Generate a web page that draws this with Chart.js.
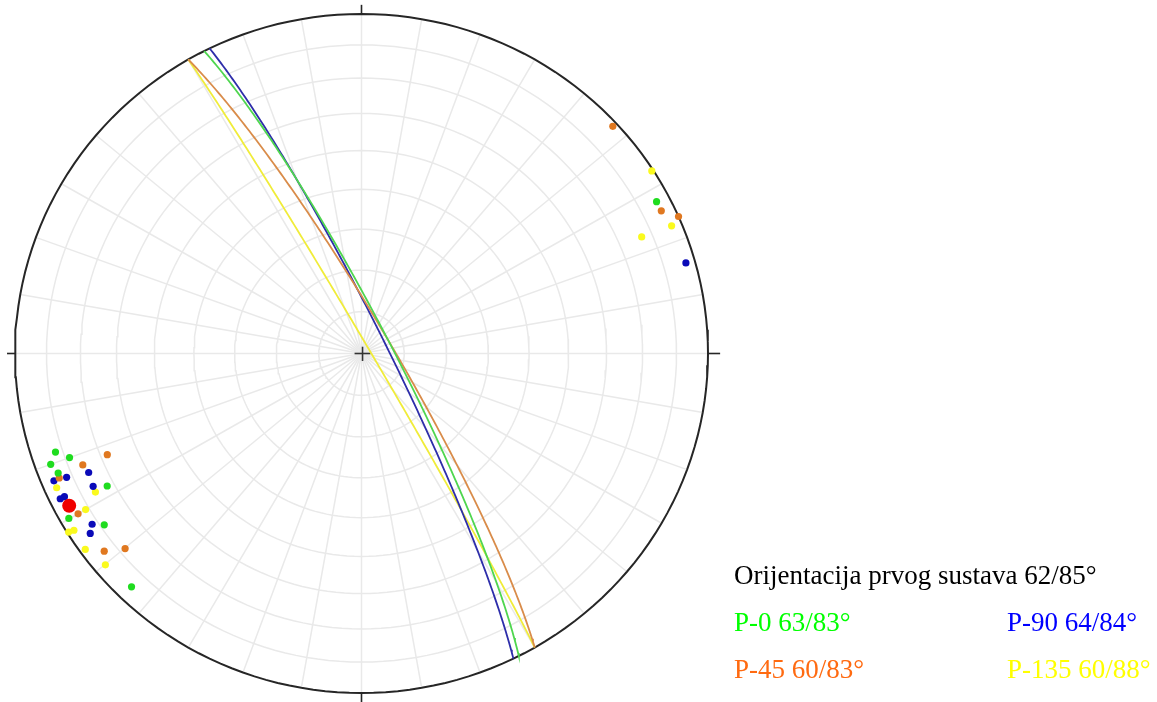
<!DOCTYPE html>
<html>
<head>
<meta charset="utf-8">
<script src="https://cdn.jsdelivr.net/npm/chart.js@4.4.1/dist/chart.umd.min.js"></script>
<style>
  html, body { margin: 0; padding: 0; background: #fff; }
  #wrap { position: relative; width: 1157px; height: 702px; overflow: hidden; }
  canvas { position: absolute; left: 0; top: 0; }
  .lbl { position: absolute; font-family: "Liberation Serif", "Times New Roman", serif; font-size: 27px; line-height: 27px; white-space: nowrap; }
</style>
</head>
<body>
<div id="wrap">
  <canvas id="c" width="1157" height="702"></canvas>
  <div class="lbl" id="title" style="left:734px; top:562px; color:#000;"></div>
  <div class="lbl" id="l0" style="left:734px; top:609px; color:#00ff00;"></div>
  <div class="lbl" id="l2" style="left:1007px; top:609px; color:#0000ff;"></div>
  <div class="lbl" id="l1" style="left:734px; top:656px; color:#ff6a10;"></div>
  <div class="lbl" id="l3" style="left:1007px; top:656px; color:#ffff00;"></div>
</div>
<script>
// ---- data ----
const mainName = 'Orijentacija prvog sustava';
const mainDipDirection = 62;
const mainDip = 85;

const planeNames = ['P-0', 'P-45', 'P-90', 'P-135'];
const planeDipDirections = [63, 60, 64, 60];
const planeDips = [83, 83, 84, 88];

// poles (trend / plunge, degrees)
const greenTrend  = [251.8, 250.0, 250.0, 248.1, 242.0, 240.1, 235.8, 224.0, 62.3];
const greenPlunge = [7.8, 11.3, 5.1, 6.3, 18.0, 2.9, 11.2, 5.0, 4.3];
const orangeTrend  = [247.9, 247.8, 247.2, 240.0, 231.9, 229.9, 47.3, 64.1, 66.2];
const orangePlunge = [21.9, 14.2, 6.0, 6.2, 6.3, 11.8, 1.5, 4.3, 0.0];
const blueTrend  = [246.0, 247.1, 246.8, 243.2, 243.8, 243.8, 237.1, 235.9, 74.1];
const bluePlunge = [14.9, 4.1, 8.2, 14.3, 5.0, 3.5, 8.2, 6.1, 3.0];
const yellowTrend  = [245.8, 242.0, 240.0, 238.1, 237.9, 234.1, 229.9, 57.3, 67.2, 67.0];
const yellowPlunge = [4.0, 14.1, 8.9, 0.5, 2.3, 1.8, 3.8, 0.5, 3.3, 13.2];

// net grid
const gridPlunges = [10, 20, 30, 40, 50, 60, 70, 80];
const gridAzimuths = [];
for (let a = 0; a < 360; a += 10) gridAzimuths.push(a);

// ---- styles ----
const planeLineColors = ['#4fd64f', '#d98c4a', '#2e2eaa', '#f0ec3a'];
const poleColors = ['#1fdc1f', '#e07820', '#0a0ab8', '#fafa1e'];

// ---- projection helpers (lower hemisphere, equal area) ----
const rad = d => d * Math.PI / 180;
function projLine(trend, plunge) {
  const r = Math.SQRT2 * Math.sin(rad((90 - plunge) / 2));
  return { x: r * Math.sin(rad(trend)), y: r * Math.cos(rad(trend)) };
}
function greatCircle(dd, dip) {
  const st = dd - 90;
  const s = [Math.sin(rad(st)), Math.cos(rad(st)), 0];
  const d = [Math.sin(rad(dd)) * Math.cos(rad(dip)), Math.cos(rad(dd)) * Math.cos(rad(dip)), Math.sin(rad(dip))];
  const pts = [];
  for (let t = 0; t <= 180; t += 1) {
    const c = Math.cos(rad(t)), sn = Math.sin(rad(t));
    const v = [c * s[0] + sn * d[0], c * s[1] + sn * d[1], Math.max(0, c * s[2] + sn * d[2])];
    const k = 1 / Math.sqrt(1 + v[2]);
    pts.push({ x: v[0] * k, y: v[1] * k });
  }
  return pts;
}
function circlePts(r) {
  const pts = [];
  for (let a = 0; a <= 360; a += 2) pts.push({ x: r * Math.sin(rad(a)), y: r * Math.cos(rad(a)) });
  return pts;
}

const datasets = [];
const lineDs = (data, color, width, order) => ({
  data, showLine: true, borderColor: color, borderWidth: width, pointRadius: 0,
  fill: false, tension: 0, order, clip: false
});

// grid circles
gridPlunges.forEach(p => {
  datasets.push(lineDs(circlePts(Math.SQRT2 * Math.sin(rad((90 - p) / 2))), '#e9e9e9', 1.5, 10));
});
// grid radials
gridAzimuths.forEach(a => {
  datasets.push(lineDs([{ x: 0, y: 0 }, projLine(a, 0)], '#e9e9e9', 1.5, 10));
});
// primitive circle
datasets.push(lineDs(circlePts(1), '#262626', 2, 5));
// cardinal ticks
datasets.push(lineDs([{ x: 0, y: 1 }, { x: 0, y: 1.027 }], '#262626', 1.6, 5));
datasets.push(lineDs([{ x: 0, y: -1 }, { x: 0, y: -1.03 }], '#262626', 1.6, 5));
datasets.push(lineDs([{ x: -1, y: 0 }, { x: -1.023, y: 0 }], '#262626', 1.6, 5));
datasets.push(lineDs([{ x: 1, y: 0 }, { x: 1.035, y: 0 }], '#262626', 1.6, 5));
// centre cross
datasets.push(lineDs([{ x: -0.02, y: 0 }, { x: 0.026, y: 0 }], '#333', 1.6, 5));
datasets.push(lineDs([{ x: 0.003, y: -0.022 }, { x: 0.003, y: 0.02 }], '#333', 1.6, 5));

// great circles
planeNames.forEach((n, i) => {
  datasets.push(lineDs(greatCircle(planeDipDirections[i], planeDips[i]), planeLineColors[i], 1.8, 3));
});

// poles
const poleSets = [
  [greenTrend, greenPlunge], [orangeTrend, orangePlunge], [blueTrend, bluePlunge], [yellowTrend, yellowPlunge]
];
poleSets.forEach((ps, i) => {
  datasets.push({
    data: ps[0].map((t, j) => projLine(t, ps[1][j])),
    showLine: false, pointRadius: 3.6, pointBackgroundColor: poleColors[i],
    pointBorderWidth: 0, pointBorderColor: poleColors[i], order: 1, clip: false
  });
});
// main system pole
datasets.push({
  data: [projLine(mainDipDirection + 180, 90 - mainDip)],
  showLine: false, pointRadius: 7, pointBackgroundColor: '#f00000',
  pointBorderWidth: 0, order: 0, clip: false
});

new Chart(document.getElementById('c'), {
  type: 'scatter',
  data: { datasets },
  options: {
    responsive: false,
    animation: false,
    events: [],
    layout: { padding: { left: 15, right: 1157 - 708, top: 14, bottom: 702 - 693 } },
    scales: {
      x: { type: 'linear', min: -1, max: 1, display: false },
      y: { type: 'linear', min: -1, max: 1, display: false }
    },
    plugins: { legend: { display: false }, tooltip: { enabled: false } }
  }
});

// text
document.getElementById('title').textContent = mainName + ' ' + mainDipDirection + '/' + mainDip + '°';
planeNames.forEach((n, i) => {
  document.getElementById('l' + i).textContent = n + ' ' + planeDipDirections[i] + '/' + planeDips[i] + '°';
});
</script>
</body>
</html>
